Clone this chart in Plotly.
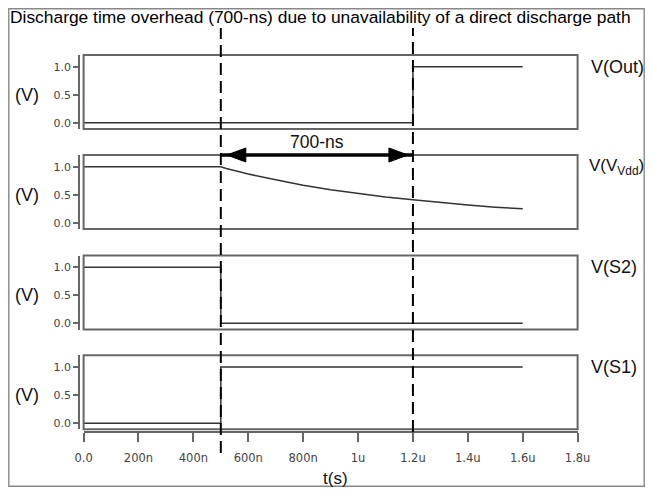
import plotly.graph_objects as go

# page body has an 8px margin, so the figure is sized to fit the 653x495 window
OFF = 8
W, H = 653 - 2 * OFF, 495 - 2 * OFF

# ---------------- data (time in ns, voltage in V) ----------------
t_out = [0, 1200, 1600]
v_out = [0.0, 1.0, 1.0]

t_vdd = [0, 500, 520, 550, 600, 700, 800, 900, 1000, 1100, 1200, 1300, 1400, 1500, 1600]
v_vdd = [1.0, 1.0, 0.97, 0.93, 0.87, 0.77, 0.67, 0.59, 0.52, 0.46, 0.41, 0.36, 0.32, 0.28, 0.25]

t_s2 = [0, 500, 1600]
v_s2 = [1.0, 0.0, 0.0]

t_s1 = [0, 500, 1600]
v_s1 = [0.0, 1.0, 1.0]

signal_names = ["V(Out)", "V(V<sub>Vdd</sub>)", "V(S2)", "V(S1)"]
x_tick_ns = [0, 200, 400, 600, 800, 1000, 1200, 1400, 1600, 1800]
x_tick_text = ["0.0", "200n", "400n", "600n", "800n", "1u", "1.2u", "1.4u", "1.6u", "1.8u"]
y_tick_vals = [0.0, 0.5, 1.0]
y_tick_text = ["0.0", "0.5", "1.0"]
marker_ns = [500, 1200]
gap_label = "700-ns"
title_text = "Discharge time overhead (700-ns) due to unavailability of a direct discharge path"

# ---------------- layout helpers (window pixel -> paper fraction) ----------------
def fx(px):
    return (px - OFF) / W

def fy(py):
    return 1 - (py - OFF) / H

def sfx(i):
    return "" if i == 1 else str(i)

NS = 1e-9
panels_px = [(55, 129), (155, 229), (255.5, 329.5), (355.3, 429.3)]
xdom = [fx(83.6), fx(577.6)]
yrange = [-0.11, 1.21]

TXT = "Liberation Sans, Arial, sans-serif"
TICKF = dict(family="DejaVu Sans, sans-serif", size=11, color="#444")
BOX = "#666"
TRACE = "#333"

fig = go.Figure()

series = [(t_out, v_out, "hv"), (t_vdd, v_vdd, "linear"), (t_s2, v_s2, "hv"), (t_s1, v_s1, "hv")]
for i, (t, v, shp) in enumerate(series, start=1):
    fig.add_trace(go.Scatter(
        x=[a * NS for a in t], y=v, mode="lines",
        line=dict(color=TRACE, width=1.5, shape=shp),
        xaxis="x" + sfx(i), yaxis="y" + sfx(i), showlegend=False, hoverinfo="skip"))

layout = dict(
    width=W, height=H, autosize=False,
    margin=dict(l=0, r=0, t=0, b=0, pad=0, autoexpand=False),
    paper_bgcolor="white", plot_bgcolor="white",
    showlegend=False,
)

label_x = [589, 587, 589, 589]
label_size = [18, 17, 18, 18]

shapes = []
annotations = []
for i, (top, bot) in enumerate(panels_px, start=1):
    s = sfx(i)
    xa = dict(domain=xdom, range=[0, 1.8e-6], anchor="y" + s, showgrid=False,
              zeroline=False, visible=False, fixedrange=True, automargin=False)
    if i == 4:
        xa.update(visible=True, anchor="free", position=fy(432.3),
                  showline=True, linecolor=BOX, linewidth=2,
                  ticks="outside", ticklen=9, tickwidth=1.5, tickcolor=BOX,
                  tickvals=[a * NS for a in x_tick_ns], ticktext=x_tick_text,
                  tickfont=dict(family="DejaVu Sans, sans-serif", size=11.5, color="#444"),
                  ticklabelstandoff=6)
    ya = dict(domain=[fy(bot), fy(top)], range=yrange, anchor="free",
              position=fx(79.3), showline=True, linecolor=BOX, linewidth=2,
              ticks="outside", ticklen=5, tickwidth=1.5, tickcolor=BOX,
              tickvals=y_tick_vals, ticktext=y_tick_text, tickfont=TICKF,
              showgrid=False, zeroline=False, fixedrange=True, automargin=False)
    layout["xaxis" + s] = xa
    layout["yaxis" + s] = ya

    # panel box
    shapes.append(dict(type="rect", xref=f"x{s} domain", yref=f"y{s} domain",
                       x0=0, x1=1, y0=0, y1=1, line=dict(color=BOX, width=2),
                       layer="above"))
    # (V) unit label
    annotations.append(dict(text="(V)", xref="paper", yref="y" + s, x=fx(27), y=0.5,
                            showarrow=False, xanchor="center", yanchor="middle",
                            font=dict(family=TXT, size=18, color="#111")))
    # signal name
    annotations.append(dict(text=signal_names[i - 1], xref="paper", yref="y" + s,
                            x=fx(label_x[i - 1]), y=1.0, showarrow=False, xanchor="left",
                            yanchor="middle",
                            font=dict(family=TXT, size=label_size[i - 1], color="#111")))

# dashed marker lines
for m, bottom in zip(marker_ns, [453, 432]):
    shapes.append(dict(type="line", xref="x", yref="paper", x0=m * NS, x1=m * NS,
                       y0=fy(bottom), y1=fy(28),
                       line=dict(color="black", width=2, dash="12px,6px"), layer="above"))

# double arrow at top of panel 2
shapes.append(dict(type="line", xref="x2", yref="y2 domain",
                   x0=marker_ns[0] * NS, x1=marker_ns[1] * NS, y0=1, y1=1,
                   line=dict(color="black", width=3.5), layer="above"))
shapes.append(dict(type="path", xref="x2", yref="y2 domain", xsizemode="pixel",
                   ysizemode="pixel", xanchor=marker_ns[0] * NS, yanchor=1,
                   path="M 6,0 L 25,7 L 25,-7 Z", fillcolor="black",
                   line=dict(color="black", width=1), layer="above"))
shapes.append(dict(type="path", xref="x2", yref="y2 domain", xsizemode="pixel",
                   ysizemode="pixel", xanchor=marker_ns[1] * NS, yanchor=1,
                   path="M -5,0 L -24,7 L -24,-7 Z", fillcolor="black",
                   line=dict(color="black", width=1), layer="above"))
annotations.append(dict(text=gap_label, xref="x2", yref="paper",
                        x=(marker_ns[0] + marker_ns[1]) / 2 * NS, y=fy(141.5),
                        showarrow=False, xanchor="center", yanchor="middle",
                        font=dict(family=TXT, size=17.5, color="#111")))

# outer frame (kept just inside the figure edge)
shapes.append(dict(type="rect", xref="paper", yref="paper", x0=fx(8.8), x1=fx(644.2),
                   y0=fy(486.2), y1=fy(8.8), line=dict(color="#888", width=1.4)))

# title and x label
annotations.append(dict(text=title_text, xref="paper", yref="paper", x=fx(8), y=fy(17.5),
                        showarrow=False, xanchor="left", yanchor="middle",
                        font=dict(family=TXT, size=17.4, color="black")))
annotations.append(dict(text="t(s)", xref="paper", yref="paper", x=fx(335), y=fy(478),
                        showarrow=False, xanchor="center", yanchor="middle",
                        font=dict(family=TXT, size=17, color="#111")))

layout["shapes"] = shapes
layout["annotations"] = annotations
fig.update_layout(**layout)

fig.write_html("out.html")
